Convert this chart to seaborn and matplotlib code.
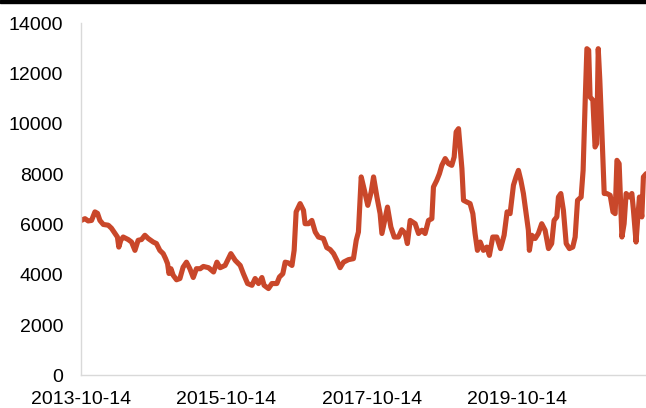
import seaborn as sns
import matplotlib.pyplot as plt
import matplotlib.dates as mdates
from matplotlib.patches import Rectangle
import pandas as pd

# Data: days since 2013-10-14 and values
start = "2013-10-14"
days = [0, 19, 35, 52, 69, 82, 94, 111, 136, 152, 169, 182, 189, 199, 211,
        236, 253, 270, 286, 303, 320, 337, 362, 378, 395, 412, 424, 434, 441,
        451, 462, 479, 496, 512, 529, 546, 563, 579, 598, 614, 640, 665, 682,
        698, 723, 740, 752, 774, 799, 815, 836, 858, 874, 891, 908, 919, 941,
        958, 983, 996, 1013, 1025, 1041, 1059, 1070, 1080, 1100, 1117, 1125,
        1142, 1159, 1176, 1192, 1217, 1234, 1251, 1268, 1285, 1301, 1318, 1343,
        1368, 1382, 1393, 1407, 1423, 1440, 1457, 1469, 1486, 1502, 1511, 1527,
        1539, 1556, 1573, 1594, 1611, 1628, 1639, 1653, 1678, 1695, 1712, 1728,
        1745, 1762, 1770, 1787, 1800, 1812, 1829, 1845, 1862, 1874, 1884, 1896,
        1904, 1913, 1921, 1938, 1954, 1968, 1979, 1991, 2005, 2021, 2038, 2051,
        2068, 2088, 2107, 2125, 2140, 2155, 2172, 2185, 2197, 2209, 2222, 2236,
        2247, 2252, 2264, 2281, 2297, 2314, 2331, 2348, 2364, 2376, 2390, 2398,
        2410, 2423, 2437, 2453, 2470, 2482, 2494, 2512, 2522, 2533, 2541, 2550,
        2557, 2571, 2582, 2590, 2598, 2606, 2616, 2628, 2641, 2658, 2672, 2683,
        2692, 2703, 2717, 2728, 2738, 2755, 2767, 2775, 2788, 2797, 2805, 2817,
        2825, 2839]
values = [6160, 6230, 6140, 6160, 6500, 6440, 6160, 6000, 5970, 5850, 5650,
          5500, 5100, 5370, 5500, 5400, 5300, 4970, 5370, 5400, 5570, 5440,
          5300, 5240, 4970, 4840, 4640, 4440, 4050, 4240, 3980, 3800, 3850,
          4300, 4500, 4240, 3890, 4240, 4240, 4330, 4280, 4110, 4500, 4280,
          4370, 4640, 4840, 4570, 4370, 4040, 3650, 3580, 3850, 3650, 3890,
          3580, 3450, 3650, 3650, 3910, 4040, 4500, 4470, 4370, 4970, 6500,
          6830, 6560, 6030, 6030, 6160, 5700, 5500, 5440, 5080, 5000, 4840,
          4570, 4280, 4500, 4600, 4640, 5370, 5700, 7890, 7360, 6760, 7290,
          7890, 7090, 6430, 5640, 6230, 6690, 5900, 5500, 5500, 5790, 5640,
          5240, 6160, 6030, 5640, 5770, 5640, 6160, 6230, 7490, 7760, 8020,
          8350, 8620, 8420, 8350, 8680, 9680, 9810, 9080, 8220, 6960, 6890,
          6830, 6430, 5640, 4970, 5300, 4970, 5100, 4770, 5500, 5500, 5040,
          5570, 6500, 6430, 7560, 7890, 8150, 7760, 7230, 6430, 5770, 4970,
          5570, 5440, 5640, 6030, 5770, 5040, 5240, 6160, 6300, 7090, 7230,
          6560, 5240, 5040, 5100, 5500, 6960, 7090, 8150, 11070, 12990, 12930,
          11070, 10940, 9080, 9210, 12990, 11730, 9740, 7230, 7230, 7160, 6500,
          6430, 8550, 8420, 5500, 6030, 7230, 7090, 7230, 6560, 5300, 6300,
          7090, 6300, 7890, 8020]
tick_dates = ["2013-10-14", "2015-10-14", "2017-10-14", "2019-10-14"]
y_ticks = [0, 2000, 4000, 6000, 8000, 10000, 12000, 14000]

df = pd.DataFrame({
    "date": pd.Timestamp(start) + pd.to_timedelta(days, unit="D"),
    "value": values,
})

sns.set_style("white")
plt.rcParams["font.family"] = ["Liberation Sans", "DejaVu Sans"]

fig = plt.figure(figsize=(6.46, 4.08), dpi=100)
ax = fig.add_axes([0.1257, 0.0801, 0.8743, 0.8628])

sns.lineplot(data=df, x="date", y="value", ax=ax, color="#c9472a",
             linewidth=3.7, solid_joinstyle="round", solid_capstyle="round")

ax.set_xlim(pd.Timestamp(start), pd.Timestamp(start) + pd.Timedelta(days=2838))
ax.set_ylim(0, 14000)
ax.set_yticks(y_ticks)
ax.set_xticks(pd.to_datetime(tick_dates))
ax.xaxis.set_major_formatter(mdates.DateFormatter("%Y-%m-%d"))
ax.set_xlabel("")
ax.set_ylabel("")

for side in ["top", "right"]:
    ax.spines[side].set_visible(False)
for side in ["left", "bottom"]:
    ax.spines[side].set_color("#d9d9d9")
    ax.spines[side].set_linewidth(1.0)

ax.tick_params(axis="both", direction="in", length=5, width=1,
               color="#d9d9d9", labelsize=14, labelcolor="black")
ax.tick_params(axis="y", pad=13)
ax.tick_params(axis="x", pad=11)

# black bar at the top edge
fig.patches.append(Rectangle((0, 1 - 3 / 408), 1, 3 / 408,
                             transform=fig.transFigure, color="black",
                             zorder=10))

fig.savefig("out.png", dpi=100)
